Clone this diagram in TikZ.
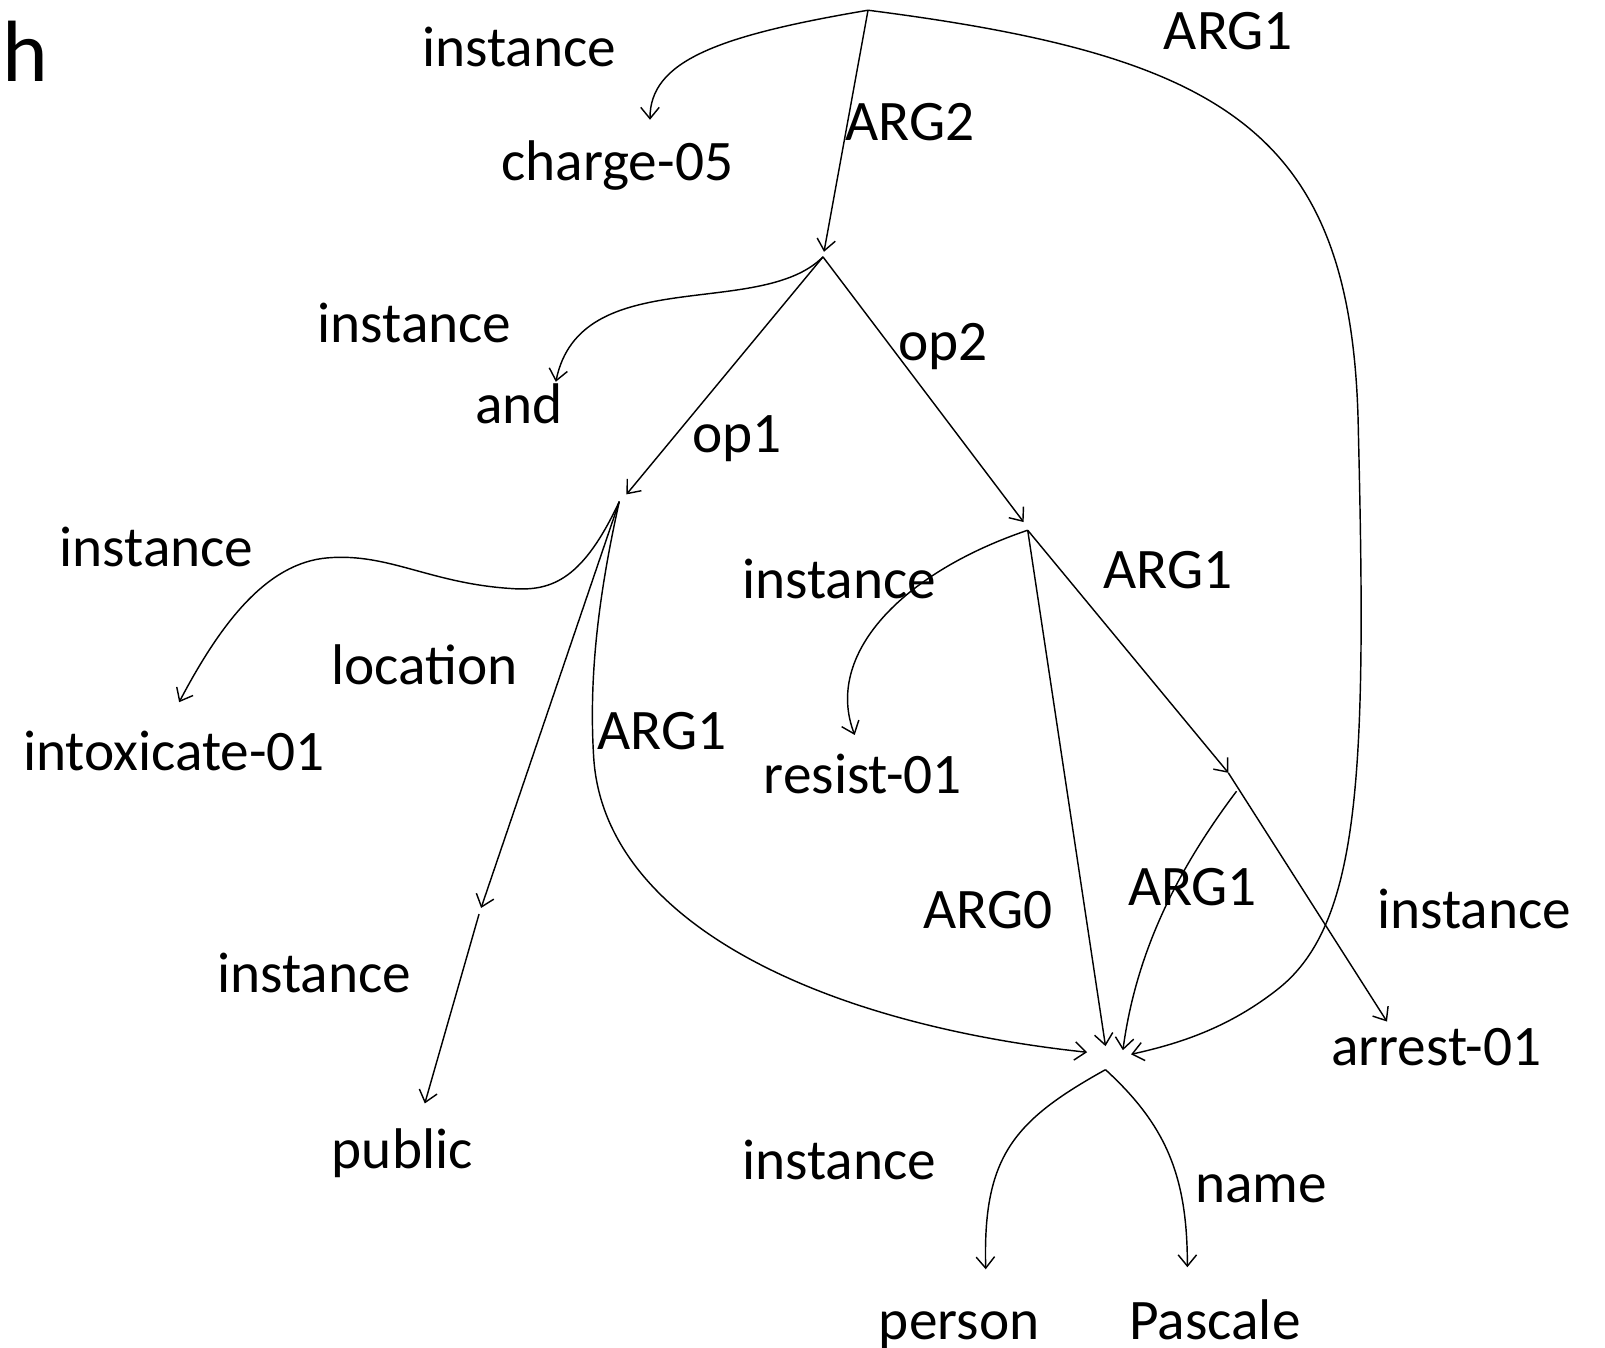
\documentclass[tikz,border=0pt]{standalone}
\usepackage{fontspec}
\setmainfont{Carlito}
\usetikzlibrary{arrows.meta}
\begin{document}
\begin{tikzpicture}[x=1pt,y=-1pt,
  lbl/.style={anchor=base, inner sep=0pt, font=\fontsize{56}{60}\selectfont},
  rel/.style={line width=1.4pt, -{Straight Barb[length=11pt,width=18pt,line width=1.4pt]}},
]
\useasboundingbox (0,0) rectangle (1568,1316);

% graph points (concepts are unlabeled points)
\coordinate (R) at (848,10);
\coordinate (A) at (805,246);
\coordinate (Aout) at (804,251);
\coordinate (B) at (612,483);
\coordinate (Bout) at (605,490);
\coordinate (C) at (1000,510);
\coordinate (Cout) at (1004,518);
\coordinate (D) at (1200,755);
\coordinate (Dout) at (1208,773);
\coordinate (L) at (470,887);
\coordinate (Lout) at (468,893);
\coordinate (PinB) at (1062,1028);
\coordinate (PinC) at (1080,1022);
\coordinate (PinD) at (1097,1026);
\coordinate (PinR) at (1105,1030);
\coordinate (Pout) at (1080,1045);

% leaf arrow ends
\coordinate (tCharge) at (635,117);
\coordinate (tAnd) at (543,373);
\coordinate (tIntox) at (175,686);
\coordinate (tResist) at (835,718);
\coordinate (tArrest) at (1355,998);
\coordinate (tPublic) at (415,1078);
\coordinate (tPerson) at (963,1240);
\coordinate (tPascale) at (1160,1238);

% labels
\node[lbl, font=\fontsize{85}{90}\selectfont] (h) at (25,80) {h};
\node[lbl] (l1) at (507,65) {instance};
\node[lbl] (n1) at (603,176) {charge-05};
\node[lbl] (l2) at (889,137) {ARG2};
\node[lbl] (l3) at (1200,48) {ARG1};
\node[lbl] (l4) at (405,335) {instance};
\node[lbl] (n2) at (507,414) {and};
\node[lbl] (l5) at (921,352) {op2};
\node[lbl] (l6) at (720,442) {op1};
\node[lbl] (l7) at (153,553) {instance};
\node[lbl] (n3) at (170,753) {intoxicate-01};
\node[lbl] (l8) at (415,669) {location};
\node[lbl] (l9) at (647,732) {ARG1};
\node[lbl] (l10) at (820,585) {instance};
\node[lbl] (n4) at (843,775) {resist-01};
\node[lbl] (l11) at (1141,575) {ARG1};
\node[lbl] (l12) at (965,907) {ARG0};
\node[lbl] (l13) at (1165,885) {ARG1};
\node[lbl] (l14) at (1440,907) {instance};
\node[lbl] (n5) at (1403,1041) {arrest-01};
\node[lbl] (l15) at (307,970) {instance};
\node[lbl] (n6) at (393,1142) {public};
\node[lbl] (l16) at (820,1152) {instance};
\node[lbl] (l17) at (1232,1175) {name};
\node[lbl] (n7) at (937,1309) {person};
\node[lbl] (n8) at (1187,1309) {Pascale};

% edges from the root
\draw[rel] (R) .. controls (700,35) and (635,60) .. (tCharge);
\draw[rel] (R) -- (A);
\draw[rel] (R) .. controls (1200,55) and (1322,130) .. (1327,420)
               .. controls (1335,750) and (1330,900) .. (1250,965)
               .. controls (1200,1005) and (1150,1020) .. (PinR);

% edges from "and"
\draw[rel] (Aout) .. controls (742,313) and (567,256) .. (tAnd);
\draw[rel] (Aout) -- (B);
\draw[rel] (Aout) -- (C);

% edges from intoxicate-01
\draw[rel] (Bout) .. controls (570,565) and (540,578) .. (500,575)
                  .. controls (420,570) and (380,540) .. (320,545)
                  .. controls (260,550) and (215,610) .. (tIntox);
\draw[rel] (Bout) -- (L);
\draw[rel] (Bout) .. controls (585,580) and (575,660) .. (580,740)
                  .. controls (590,900) and (800,1000) .. (PinB);

% location
\draw[rel] (Lout) -- (tPublic);

% edges from resist-01
\draw[rel] (Cout) .. controls (880,560) and (805,640) .. (tResist);
\draw[rel] (Cout) -- (PinC);
\draw[rel] (Cout) -- (D);

% edges from arrest-01
\draw[rel] (Dout) .. controls (1150,850) and (1110,930) .. (PinD);
\draw[rel] (D) -- (tArrest);

% edges from person
\draw[rel] (Pout) .. controls (990,1095) and (960,1130) .. (tPerson);
\draw[rel] (Pout) .. controls (1140,1100) and (1160,1150) .. (tPascale);
\end{tikzpicture}
\end{document}
